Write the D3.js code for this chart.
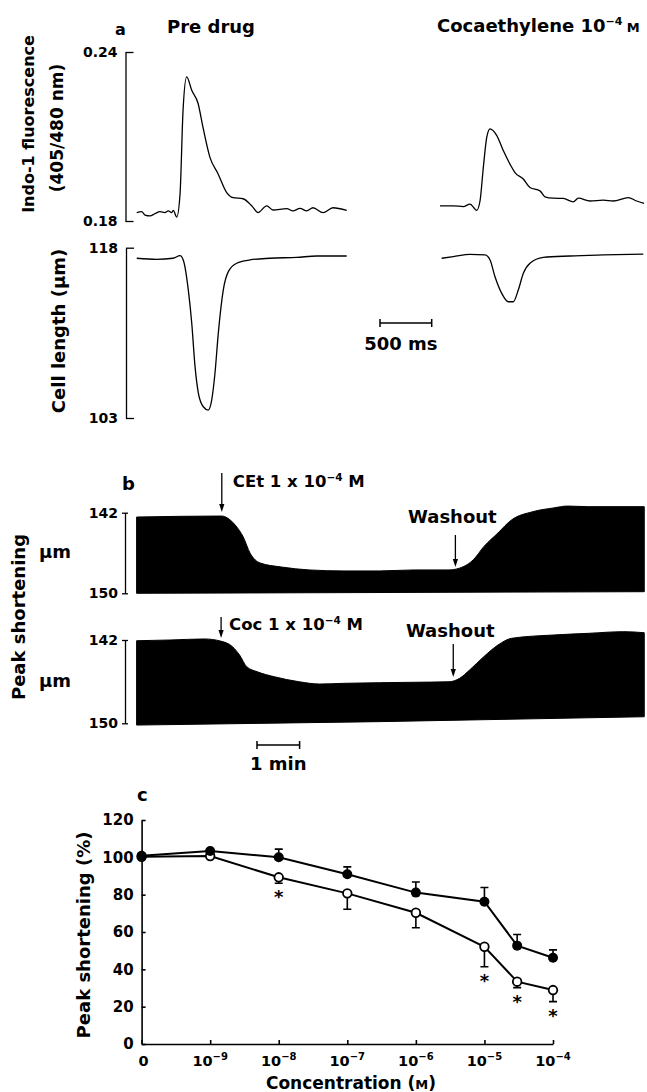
<!DOCTYPE html>
<html>
<head>
<meta charset="utf-8">
<script src="https://cdn.jsdelivr.net/npm/d3@7"></script>
<style>
  body { margin: 0; background: #fff; }
  svg { display: block; font-family: "DejaVu Sans", sans-serif; font-weight: bold; }
</style>
</head>
<body>
<script>
// ---- panel a: single twitch records (time in ms from start of each record)
const preFluorTime = [7, 55, 87, 135, 184, 232, 280, 312, 345, 361, 394, 426, 455, 490, 539, 600, 648, 716, 793, 877, 938, 1035, 1119, 1180, 1264, 1325, 1457, 1518, 1586, 1651, 1712, 1809, 1905, 2038];
const preFluor = [0.1830, 0.1833, 0.1821, 0.1818, 0.1826, 0.1833, 0.1830, 0.1836, 0.1830, 0.1838, 0.1814, 0.1896, 0.2193, 0.2312, 0.2264, 0.2218, 0.2132, 0.2025, 0.1968, 0.1901, 0.1883, 0.1879, 0.1854, 0.1830, 0.1854, 0.1839, 0.1844, 0.1836, 0.1845, 0.1836, 0.1847, 0.1830, 0.1847, 0.1838];
const preLenTime = [7, 200, 358, 426, 457, 506, 539, 571, 603, 651, 699, 732, 764, 796, 844, 893, 974, 1103, 1296, 1554, 1748, 2038];
const preLength = [117.07, 116.98, 117.07, 117.30, 116.92, 114.27, 111.37, 107.52, 105.20, 103.99, 103.70, 104.58, 106.96, 110.48, 114.27, 115.89, 116.63, 116.92, 117.07, 117.15, 117.27, 117.27];

const cetFluorTime = [0, 129, 225, 290, 355, 387, 419, 452, 484, 548, 612, 677, 725, 806, 870, 967, 1015, 1096, 1192, 1289, 1338, 1451, 1579, 1676, 1821, 1902, 1973];
const cetFluor = [0.1854, 0.1854, 0.1851, 0.1860, 0.1838, 0.1871, 0.1990, 0.2097, 0.2127, 0.2104, 0.2050, 0.2002, 0.1972, 0.1949, 0.1919, 0.1907, 0.1886, 0.1881, 0.1880, 0.1868, 0.1881, 0.1871, 0.1874, 0.1871, 0.1883, 0.1871, 0.1863];
const cetLenTime = [16, 129, 290, 435, 484, 532, 597, 661, 709, 757, 806, 870, 999, 1257, 1579, 1966];
const cetLength = [117.07, 117.21, 117.42, 117.36, 116.92, 115.44, 113.98, 113.24, 113.24, 114.27, 115.74, 116.63, 117.15, 117.27, 117.36, 117.44];

// ---- panel b: chart records (time in s), peak and resting length in um
const cetRunTime = [0, 120, 128, 140, 150, 160, 174, 204, 243, 292, 342, 391, 440, 460, 474, 489, 509, 528, 558, 587, 607, 636, 715];
const cetRunPeak = [142.43, 142.33, 142.53, 143.32, 144.38, 146.03, 146.99, 147.39, 147.68, 147.78, 147.78, 147.68, 147.68, 147.36, 146.69, 145.37, 144.01, 142.72, 141.90, 141.53, 141.34, 141.40, 141.40];
const cetRestTime = [0, 440, 715];
const cetRest = [150.0, 149.9, 149.84];
const cocRunTime = [0, 47, 96, 118, 135, 145, 155, 170, 194, 229, 258, 292, 342, 391, 440, 455, 469, 489, 509, 528, 587, 636, 686, 715];
const cocRunPeak = [142.07, 142.0, 141.9, 142.1, 142.64, 143.44, 144.56, 145.05, 145.53, 146.01, 146.23, 146.16, 146.10, 146.06, 146.01, 145.68, 144.88, 143.60, 142.48, 141.84, 141.52, 141.36, 141.20, 141.30];
const cocRestTime = [0, 342, 715];
const cocRest = [150.17, 149.84, 149.37];
const drugOnTime = [120, 119];     // CEt, Coc
const washoutTime = [449, 446];

// ---- panel c: concentration-response
const concentrations = [0, 1e-9, 1e-8, 1e-7, 1e-6, 1e-5, 3e-5, 1e-4];
const cocaineMean = [100.8, 103.4, 100.0, 90.9, 81.1, 76.2, 52.7, 46.2];
const cocaineSem = [0, 0, 4.4, 4.0, 5.7, 7.6, 6.0, 4.2];
const cetMean = [100.3, 100.7, 89.3, 80.7, 70.3, 52.1, 33.4, 28.9];
const cetSem = [0, 0, 3.2, 8.5, 8.0, 10.7, 3.2, 6.2];
const cetSignificant = [false, false, true, false, false, true, true, true];
const concTicks = [0, 1e-9, 1e-8, 1e-7, 1e-6, 1e-5, 1e-4];
const concTickExp = ["", "−9", "−8", "−7", "−6", "−5", "−4"];
const pctTicks = [0, 20, 40, 60, 80, 100, 120];

let width = 647, height = 1092;
let svg = d3.select("body").append("svg")
    .attr("width", width)
    .attr("height", height);

function addText(x, y, size, anchor) {
  return svg.append("text")
      .attr("x", x).attr("y", y)
      .attr("font-size", size)
      .attr("text-anchor", anchor || "start");
}

function addVText(cx, cy, size, txt) {
  return svg.append("text")
      .attr("transform", "translate(" + cx + "," + cy + ") rotate(-90)")
      .attr("dy", "0.36em")
      .attr("font-size", size)
      .attr("text-anchor", "middle")
      .text(txt);
}

function styleAxis(g, size) {
  g.attr("font-family", null).attr("font-size", size);
  g.selectAll("path, line").attr("stroke", "#000").attr("stroke-width", 1.3);
  g.selectAll("text").attr("fill", "#000");
}

function arrowDown(x, y1, y2) {
  svg.append("line").attr("x1", x).attr("x2", x).attr("y1", y1).attr("y2", y2 - 4)
      .attr("stroke", "#000").attr("stroke-width", 1.3);
  svg.append("path").attr("d", "M" + (x - 2.6) + "," + (y2 - 8) + "L" + x + "," + y2 + "L" + (x + 2.6) + "," + (y2 - 8) + "Z")
      .attr("fill", "#000");
}

// ================= panel a =================
let msScale = d3.scaleLinear().domain([0, 500]).range([0, 51.7]);
let fluorY = d3.scaleLinear().domain([0.18, 0.24]).range([221, 52]);
let lengthY = d3.scaleLinear().domain([103, 118]).range([418, 247.7]);

function trace(x0, times, values, yScale) {
  let line = d3.line()
      .curve(d3.curveMonotoneX)
      .x(function(d, i) { return x0 + msScale(times[i]); })
      .y(function(d) { return yScale(d); });
  svg.append("path").datum(values)
      .attr("d", line)
      .attr("fill", "none")
      .attr("stroke", "#000")
      .attr("stroke-width", 1.3)
      .attr("stroke-linejoin", "round");
}

trace(136, preFluorTime, preFluor, fluorY);
trace(136, preLenTime, preLength, lengthY);
trace(440, cetFluorTime, cetFluor, fluorY);
trace(440, cetLenTime, cetLength, lengthY);

let fAxis = svg.append("g").attr("transform", "translate(125.5,0)")
    .call(d3.axisLeft(fluorY).tickValues([0.18, 0.24]).tickFormat(d3.format(".2f"))
      .tickSizeInner(-8).tickSizeOuter(0).tickPadding(8));
styleAxis(fAxis, 14);
let lAxis = svg.append("g").attr("transform", "translate(126,0)")
    .call(d3.axisLeft(lengthY).tickValues([103, 118]).tickFormat(d3.format("d"))
      .tickSizeInner(-8).tickSizeOuter(0).tickPadding(8));
styleAxis(lAxis, 14);

addText(115, 35, 16).text("a");
addText(167, 33, 18).text("Pre drug");
let cetTitle = addText(437, 32, 18).text("Cocaethylene 10");
cetTitle.append("tspan").attr("dy", -7).attr("font-size", 11).text("−4");
cetTitle.append("tspan").attr("dy", 7).attr("font-size", 13).text(" M");

addVText(28, 124, 16, "Indo-1 fluorescence");
addVText(57, 128, 17, "(405/480 nm)");
addVText(59, 331, 18, "Cell length (µm)");

// 500 ms scale bar
let barX = 380, barY = 323;
svg.append("path")
    .attr("d", "M" + barX + "," + (barY - 4) + "V" + (barY + 4) + "M" + barX + "," + barY +
      "H" + (barX + msScale(500)) + "M" + (barX + msScale(500)) + "," + (barY - 4) + "V" + (barY + 4))
    .attr("stroke", "#000").attr("stroke-width", 1.5).attr("fill", "none");
addText(barX + msScale(250) - 5, 350, 18, "middle").text("500 ms");

// ================= panel b =================
let secScale = d3.scaleLinear().domain([0, 60]).range([0, 42.6]);
let bX0 = 136.6;
let runs = [
  {time: cetRunTime, peak: cetRunPeak, restTime: cetRestTime, rest: cetRest,
   y: d3.scaleLinear().domain([142, 150]).range([512.7, 593.3]),
   label: "CEt", labelY: 487, drugArrow: [473, 512], washY: 523, washArrow: [535, 567]},
  {time: cocRunTime, peak: cocRunPeak, restTime: cocRestTime, rest: cocRest,
   y: d3.scaleLinear().domain([142, 150]).range([640, 723.3]),
   label: "Coc", labelY: 630, drugArrow: [617, 638], washY: 637, washArrow: [644, 677]}
];

runs.forEach(function(r, k) {
  let topLine = d3.line().curve(d3.curveMonotoneX)
      .x(function(d, i) { return bX0 + secScale(r.time[i]); })
      .y(function(d) { return r.y(d); });
  let restPts = r.restTime.map(function(t, i) { return [bX0 + secScale(t), r.y(r.rest[i])]; }).reverse();
  let d = topLine(r.peak) + restPts.map(function(p) { return "L" + p[0] + "," + p[1]; }).join("") + "Z";
  svg.append("path").attr("d", d)
      .attr("fill", "#000").attr("stroke", "#000").attr("stroke-width", 1);

  let ax = svg.append("g").attr("transform", "translate(125,0)")
      .call(d3.axisLeft(r.y).tickValues([142, 150]).tickFormat(d3.format("d"))
        .tickSizeInner(3).tickSizeOuter(0).tickPadding(4));
  ax.selectAll(".tick line").attr("x2", 3).attr("x1", -3);
  styleAxis(ax, 14);

  addText(55, (r.y.range()[0] + r.y.range()[1]) / 2, 18, "middle").attr("dy", "0.3em").text("µm");

  let ax0 = bX0 + secScale(drugOnTime[k]);
  arrowDown(ax0, r.drugArrow[0], r.drugArrow[1]);
  let lab = addText(ax0 + (k === 0 ? 11 : 8), r.labelY, 16.5).text(r.label + " 1 x 10");
  lab.append("tspan").attr("dy", -6).attr("font-size", 10.5).text("−4");
  lab.append("tspan").attr("dy", 6).text(" M");

  let wx = bX0 + secScale(washoutTime[k]);
  arrowDown(wx, r.washArrow[0], r.washArrow[1]);
  addText(wx - 3, r.washY, 18, "middle").text("Washout");
});

addText(122, 490, 18).text("b");
addVText(19, 617, 18, "Peak shortening");

// 1 min scale bar
let minX = 257, minY = 745;
svg.append("path")
    .attr("d", "M" + minX + "," + (minY - 4) + "V" + (minY + 4) + "M" + minX + "," + minY +
      "H" + (minX + secScale(60)) + "M" + (minX + secScale(60)) + "," + (minY - 4) + "V" + (minY + 4))
    .attr("stroke", "#000").attr("stroke-width", 1.5).attr("fill", "none");
addText(minX + secScale(30), 770, 18, "middle").text("1 min");

// ================= panel c =================
let concX = d3.scaleLog().domain([1e-10, 1e-4]).range([141.6, 553]);
function cx(c) { return concX(c === 0 ? 1e-10 : c); }
let pctY = d3.scaleLinear().domain([0, 120]).range([1044, 820]);

let yAx = svg.append("g").attr("transform", "translate(141.6,0)")
    .call(d3.axisLeft(pctY).tickValues(pctTicks).tickSizeInner(-4).tickSizeOuter(0).tickPadding(8));
styleAxis(yAx, 15);
yAx.selectAll("path, line").attr("stroke-width", 1.6);

let xAx = svg.append("g").attr("transform", "translate(0,1044)")
    .call(d3.axisBottom(concX).tickValues(concTicks.map(function(c) { return c === 0 ? 1e-10 : c; }))
      .tickFormat("").tickSizeInner(-4).tickSizeOuter(0));
styleAxis(xAx, 15);
xAx.selectAll("path, line").attr("stroke-width", 1.6);

concTicks.forEach(function(c, i) {
  let t = addText(cx(c) + (c === 0 ? 2 : 0), 1066, 14.5, "middle").text(c === 0 ? "0" : "10");
  if (concTickExp[i]) t.append("tspan").attr("dy", -6).attr("font-size", 10).text(concTickExp[i]);
});

let seriesLine = function(vals) {
  return d3.line().x(function(d, i) { return cx(concentrations[i]); }).y(function(d) { return pctY(d); })(vals);
};
[cetMean, cocaineMean].forEach(function(vals) {
  svg.append("path").attr("d", seriesLine(vals)).attr("fill", "none")
      .attr("stroke", "#000").attr("stroke-width", 2);
});

// error bars: cocaine up, cocaethylene down
function errBar(x, yFrom, yTo) {
  svg.append("path").attr("d", "M" + x + "," + yFrom + "V" + yTo + "M" + (x - 4) + "," + yTo + "H" + (x + 4))
      .attr("stroke", "#000").attr("stroke-width", 1.6).attr("fill", "none");
}
concentrations.forEach(function(c, i) {
  if (cocaineSem[i] > 0) errBar(cx(c), pctY(cocaineMean[i]), pctY(cocaineMean[i] + cocaineSem[i]));
  if (cetSem[i] > 0) errBar(cx(c), pctY(cetMean[i]), pctY(cetMean[i] - cetSem[i]));
});

svg.append("g").selectAll("circle").data(cetMean).enter().append("circle")
    .attr("cx", function(d, i) { return cx(concentrations[i]); })
    .attr("cy", function(d) { return pctY(d); })
    .attr("r", 4.3)
    .attr("fill", "#fff").attr("stroke", "#000").attr("stroke-width", 1.8);
svg.append("g").selectAll("circle").data(cocaineMean).enter().append("circle")
    .attr("cx", function(d, i) { return cx(concentrations[i]); })
    .attr("cy", function(d) { return pctY(d); })
    .attr("r", 5)
    .attr("fill", "#000");

concentrations.forEach(function(c, i) {
  if (!cetSignificant[i]) return;
  addText(cx(c), pctY(cetMean[i] - cetSem[i]) + 20, 18, "middle").text("*");
});

addText(137, 801, 18).text("c");
addVText(84, 935, 18, "Peak shortening (%)");
let xl = addText(351, 1089, 17, "middle").text("Concentration (");
xl.append("tspan").attr("font-size", 13).text("M");
xl.append("tspan").text(")");
</script>
</body>
</html>
